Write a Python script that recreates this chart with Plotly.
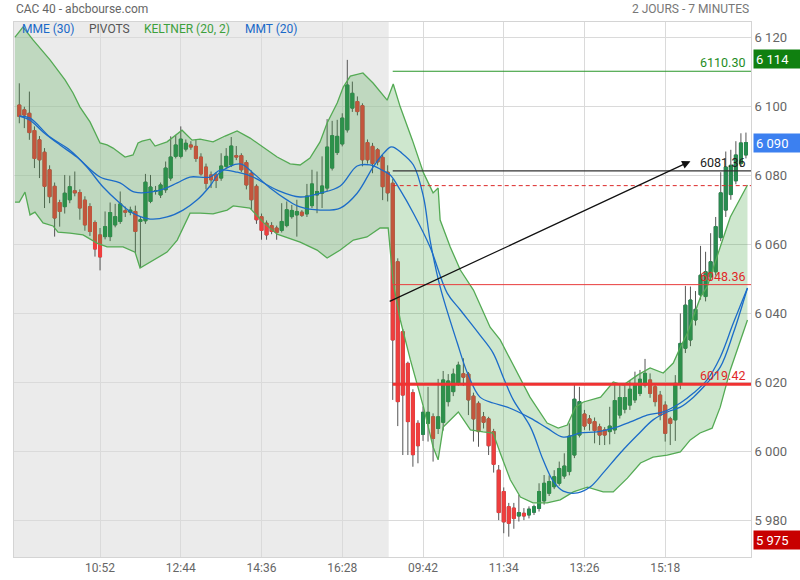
import plotly.graph_objects as go

# ---------------- data ----------------
opens = [6100.5, 6099.1, 6098.1, 6093.1, 6090.4, 6086.8, 6081.7, 6076.9, 6072.2, 6071.0,
         6073.0, 6075.6, 6075.1, 6072.9, 6071.0, 6066.4, 6062.8, 6062.3, 6062.3, 6065.7,
         6066.7, 6069.8, 6069.4, 6069.6, 6066.7, 6066.9, 6072.5, 6075.4, 6074.4, 6075.9,
         6079.3, 6085.6, 6085.6, 6087.7, 6088.9, 6088.5, 6085.4, 6082.5, 6080.2, 6080.2,
         6079.3, 6082.7, 6083.1, 6085.8, 6085.8, 6083.8, 6080.7, 6076.9, 6068.1, 6066.2,
         6065.5, 6064.8, 6064.1, 6065.5, 6068.1, 6068.6, 6069.4, 6068.9, 6071.3, 6074.4,
         6074.9, 6076.4, 6082.2, 6086.7, 6089.2, 6093.3, 6099.6, 6101.5, 6100.3, 6089.6,
         6088.5, 6087.5, 6085.3, 6081.0,
         6077.8, 6055.0, 6034.7, 6025.5, 6017.0, 6008.1, 6004.9, 6008.1, 6010.0, 6006.6,
         6008.4, 6014.4, 6017.3, 6019.7, 6022.5, 6022.4, 6016.0, 6013.9, 6010.0, 6009.4,
         6005.7, 5994.5, 5988.3, 5983.9, 5983.5, 5981.2, 5982.0, 5981.5, 5982.3, 5983.4,
         5985.6, 5987.8, 5989.7, 5990.7, 5992.8, 5994.1, 5998.9, 6004.7, 6010.8, 6009.4,
         6008.6, 6007.1, 6006.2, 6005.7, 6006.2, 6010.5, 6012.2, 6013.4, 6014.9, 6016.8,
         6019.2, 6020.7, 6018.7, 6016.3, 6013.4, 6009.4, 6009.1, 6019.7, 6029.9, 6032.3,
         6038.1, 6045.4, 6044.9, 6050.6, 6052.1, 6062.0, 6070.0, 6074.5, 6078.5, 6083.5,
         6086.0]
highs = [6106.8, 6100.0, 6104.4, 6094.3, 6091.5, 6088.0, 6083.0, 6078.0, 6073.0, 6080.2,
         6080.0, 6081.2, 6076.0, 6074.0, 6072.0, 6067.0, 6064.8, 6069.6, 6072.2, 6071.8,
         6075.4, 6071.0, 6071.0, 6071.3, 6068.0, 6080.5, 6080.2, 6077.0, 6078.0, 6084.1,
         6091.4, 6091.8, 6094.3, 6090.5, 6090.0, 6090.4, 6086.5, 6083.5, 6081.2, 6081.0,
         6086.5, 6088.0, 6091.2, 6088.6, 6086.5, 6084.5, 6081.5, 6077.5, 6069.0, 6067.0,
         6066.5, 6065.5, 6072.0, 6072.5, 6071.5, 6073.0, 6070.0, 6077.6, 6081.7, 6081.2,
         6085.6, 6096.4, 6095.9, 6096.2, 6098.1, 6113.6, 6107.3, 6103.0, 6101.0, 6090.5,
         6089.5, 6088.0, 6086.0, 6083.0,
         6079.0, 6056.0, 6035.5, 6026.0, 6018.0, 6009.0, 6013.0, 6018.7, 6011.0, 6021.0,
         6023.3, 6022.4, 6024.0, 6026.0, 6027.0, 6023.0, 6017.0, 6014.5, 6011.4, 6010.0,
         6006.5, 5996.0, 5989.5, 5985.0, 5985.0, 5987.3, 5983.5, 5984.0, 5984.5, 5990.7,
         5993.1, 5993.0, 5994.5, 5997.0, 5999.4, 6008.1, 6019.7, 6018.7, 6012.0, 6010.5,
         6009.8, 6008.0, 6007.0, 6012.9, 6019.5, 6019.2, 6019.2, 6020.7, 6023.1, 6023.6,
         6026.8, 6022.6, 6019.5, 6017.5, 6014.5, 6010.0, 6022.1, 6040.0, 6048.0, 6047.8,
         6046.5, 6059.6, 6057.9, 6063.3, 6068.0, 6081.0, 6087.0, 6087.5, 6090.0, 6092.3,
         6092.5]
lows = [6095.2, 6093.8, 6090.4, 6082.2, 6079.3, 6070.6, 6072.0, 6062.3, 6065.2, 6069.0,
        6072.0, 6074.0, 6067.2, 6064.0, 6062.5, 6056.5, 6052.5, 6061.5, 6061.0, 6065.0,
        6066.0, 6068.0, 6068.5, 6057.5, 6053.2, 6066.0, 6072.0, 6074.5, 6073.5, 6075.0,
        6078.5, 6085.0, 6085.0, 6087.0, 6087.5, 6084.0, 6080.0, 6076.0, 6076.4, 6076.4,
        6078.5, 6082.0, 6082.5, 6084.5, 6081.0, 6076.0, 6070.1, 6066.0, 6061.4, 6061.4,
        6063.0, 6061.4, 6063.5, 6065.0, 6067.5, 6062.3, 6068.0, 6068.0, 6070.6, 6069.1,
        6070.6, 6075.5, 6081.5, 6086.0, 6088.5, 6092.5, 6098.5, 6097.5, 6082.7, 6083.5,
        6080.7, 6083.0, 6072.9, 6072.5,
        6014.9, 6007.3, 5998.9, 5998.9, 5995.5, 5996.5, 6003.0, 6002.8, 5997.0, 6005.0,
        6006.0, 6013.0, 6016.0, 6019.0, 6019.0, 6010.5, 6002.8, 6001.3, 6006.6, 5998.9,
        5993.8, 5980.0, 5976.2, 5975.2, 5977.5, 5979.6, 5980.0, 5980.5, 5981.5, 5982.5,
        5984.5, 5987.0, 5989.0, 5990.0, 5992.0, 5993.0, 5998.0, 6004.0, 6006.2, 6006.0,
        6002.3, 6001.8, 6001.8, 6002.0, 6005.0, 6009.5, 6011.0, 6012.0, 6014.0, 6016.0,
        6018.5, 6015.5, 6013.0, 6009.0, 6002.8, 6001.8, 6003.0, 6018.0, 6028.5, 6030.5,
        6036.5, 6044.0, 6043.5, 6049.5, 6051.0, 6061.0, 6068.0, 6073.0, 6077.5, 6082.5,
        6085.0]
closes = [6097.2, 6097.6, 6092.5, 6085.0, 6084.6, 6076.9, 6073.9, 6067.7, 6069.6, 6074.9,
          6076.8, 6075.0, 6070.6, 6065.7, 6063.8, 6058.7, 6056.4, 6065.2, 6069.3, 6068.1,
          6071.8, 6069.4, 6070.0, 6063.8, 6067.2, 6078.1, 6076.7, 6075.6, 6077.3, 6082.2,
          6085.4, 6088.9, 6090.6, 6089.4, 6088.3, 6085.0, 6080.5, 6077.8, 6078.8, 6078.6,
          6082.8, 6085.6, 6088.6, 6085.4, 6081.7, 6077.3, 6073.0, 6067.2, 6064.1, 6062.8,
          6063.8, 6063.5, 6066.7, 6070.1, 6069.9, 6069.6, 6068.5, 6074.1, 6077.6, 6075.4,
          6077.0, 6088.3, 6091.6, 6091.4, 6096.7, 6106.3, 6103.9, 6098.6, 6084.6, 6084.6,
          6083.5, 6084.0, 6076.8, 6075.0,
          6032.3, 6014.4, 6016.3, 6008.6, 5999.0, 6001.6, 6011.3, 6011.3, 6003.7, 6010.0,
          6020.7, 6020.4, 6022.4, 6025.0, 6021.5, 6014.9, 6009.4, 6005.7, 6008.4, 6001.6,
          5996.2, 5982.2, 5979.5, 5979.1, 5980.5, 5982.2, 5981.2, 5983.2, 5983.9, 5988.3,
          5990.7, 5991.2, 5992.6, 5995.0, 5995.7, 6004.4, 6015.1, 6014.4, 6007.3, 6008.1,
          6006.0, 6004.7, 6004.7, 6007.3, 6014.7, 6015.6, 6015.6, 6018.0, 6019.2, 6020.9,
          6022.6, 6016.8, 6014.4, 6010.5, 6005.2, 6008.1, 6019.7, 6031.3, 6042.4, 6043.9,
          6041.2, 6051.1, 6052.1, 6055.0, 6065.2, 6075.0, 6082.5, 6083.0, 6086.0, 6089.5,
          6089.6]
bar_index = list(range(len(opens)))

time_tick_index = [16, 32, 48, 64, 80, 96, 112, 128]
time_tick_labels = ["10:52", "12:44", "14:36", "16:28", "09:42", "11:34", "13:26", "15:18"]

price_ticks = [5980, 6000, 6020, 6040, 6060, 6080, 6100, 6120]
price_tick_labels = ["5 980", "6 000", "6 020", "6 040", "6 060", "6 080", "6 100", "6 120"]

kelt_up_index = [-0.85, 0.73, 2.72, 6.09, 9.06, 10.65, 12.03, 14.01, 16.0, 17.39, 18.58, 20.96,
                 22.54, 23.53, 24.33, 25.91, 26.9, 29.28, 32.25, 34.24, 35.83, 38.4, 40.78,
                 43.16, 45.74, 48.32, 51.1, 53.67, 55.65, 57.6, 59.6, 61.0, 63.0, 64.2, 65.6,
                 68.1, 70.1, 72.9, 74.1, 75.5, 77.9, 80.1, 82.0, 83.0, 83.4, 85.4, 87.4, 90.0,
                 93.3, 95.3, 97.9, 101.2, 104.6, 106.8, 108.6, 110.2, 111.8, 115.2, 117.7,
                 119.7, 122.5, 125.0, 127.6, 129.6, 131.0, 132.4, 135.0, 136.3, 138.9, 140.9,
                 144.3]
kelt_up_value = [6120.2, 6123.1, 6119.4, 6113.6, 6107.8, 6104.0, 6099.9, 6095.6, 6089.5, 6088.9,
                 6088.0, 6085.4, 6086.0, 6089.5, 6090.0, 6090.6, 6088.6, 6089.8, 6093.2, 6090.3,
                 6090.6, 6089.8, 6091.5, 6093.0, 6090.9, 6088.3, 6085.4, 6083.4, 6083.1, 6085.1,
                 6089.8, 6095.3, 6101.1, 6105.7, 6108.9, 6109.8, 6106.9, 6101.9, 6106.6, 6099.9,
                 6090.3, 6080.8, 6075.0, 6076.4, 6067.1, 6059.3, 6052.6, 6046.8, 6036.0, 6032.3,
                 6025.0, 6015.7, 6008.2, 6006.7, 6007.6, 6012.8, 6014.3, 6015.7, 6020.1, 6019.2,
                 6022.1, 6024.2, 6022.7, 6025.6, 6030.2, 6034.3, 6044.8, 6047.7, 6059.3, 6068.0,
                 6077.3]
kelt_lo_index = [-0.85, 0.0, 1.13, 2.12, 3.11, 4.7, 6.68, 7.67, 10.05, 12.63, 15.4, 17.4, 20.56,
                 22.94, 23.93, 25.9, 29.28, 31.3, 33.84, 35.83, 38.4, 41.2, 42.4, 45.7, 48.3,
                 51.1, 53.67, 55.65, 59.0, 61.0, 63.6, 66.2, 68.9, 71.5, 73.1, 74.1, 75.5, 77.5,
                 80.1, 82.0, 83.0, 84.0, 87.0, 89.4, 91.9, 93.9, 95.3, 97.3, 99.3, 101.8, 104.6,
                 107.2, 109.8, 112.6, 115.7, 117.7, 120.5, 123.1, 125.6, 128.4, 131.0, 132.97,
                 134.9, 137.3, 138.9, 140.9, 144.3]
kelt_lo_value = [6072.3, 6072.3, 6075.2, 6068.6, 6069.4, 6066.3, 6065.4, 6063.6, 6063.3, 6062.8,
                 6060.4, 6059.3, 6059.3, 6057.8, 6053.2, 6054.9, 6057.8, 6061.3, 6069.1, 6069.1,
                 6068.9, 6070.0, 6071.2, 6070.6, 6066.5, 6063.0, 6061.6, 6060.7, 6058.4, 6056.1,
                 6058.4, 6061.3, 6062.2, 6064.8, 6064.8, 6048.8, 6038.1, 6026.5, 6012.8, 6001.2,
                 5997.5, 6007.0, 6011.4, 6006.2, 6005.6, 6005.3, 5999.5, 5991.7, 5986.7, 5985.0,
                 5985.0, 5985.9, 5988.2, 5989.6, 5988.2, 5988.2, 5992.2, 5996.6, 5998.3, 5998.9,
                 5999.8, 6003.3, 6005.3, 6006.7, 6012.8, 6023.6, 6038.1]

mmt_index = [0.0, 2.12, 6.09, 10.05, 13.4, 16.6, 19.96, 22.5, 25.9, 29.3, 32.45, 35.2, 37.8,
             39.8, 43.8, 46.3, 49.7, 53.1, 55.65, 59.6, 63.6, 66.95, 70.1, 71.9, 73.5, 74.1,
             75.5, 78.1, 80.1, 81.4, 83.4, 86.8, 88.8, 91.3, 93.9, 96.7, 101.3, 104.6, 107.8,
             111.2, 114.5, 117.7, 121.1, 124.4, 127.6, 131.0, 133.6, 136.3, 138.9, 141.5, 144.3]
mmt_value = [6097.3, 6096.7, 6091.2, 6087.4, 6082.5, 6076.7, 6072.0, 6069.1, 6067.4, 6068.0,
             6070.0, 6072.9, 6077.0, 6081.0, 6083.4, 6080.8, 6076.4, 6072.9, 6070.9, 6070.0,
             6070.6, 6074.9, 6082.5, 6086.0, 6088.3, 6088.3, 6086.9, 6083.1, 6073.8, 6061.3,
             6047.7, 6031.4, 6022.7, 6015.7, 6014.0, 6012.8, 6009.6, 6006.7, 6004.1, 6005.3,
             6005.6, 6006.7, 6008.5, 6010.5, 6011.4, 6014.0, 6016.9, 6020.7, 6027.3, 6037.2,
             6047.4]
mme_index = [0.0, 2.12, 4.7, 8.07, 11.4, 16.0, 19.96, 22.9, 27.9, 31.3, 33.8, 37.8, 39.8, 43.2,
             46.3, 51.1, 55.65, 59.6, 63.6, 66.95, 69.5, 71.9, 73.5, 75.5, 78.1, 81.4, 84.8,
             87.4, 91.3, 93.9, 95.9, 97.9, 101.3, 103.8, 105.8, 107.8, 110.6, 113.1, 115.7,
             119.1, 122.5, 125.6, 128.4, 131.0, 133.6, 136.3, 138.9, 141.5, 144.3]
mme_value = [6097.3, 6096.1, 6092.7, 6088.9, 6085.4, 6079.6, 6077.9, 6075.2, 6075.8, 6077.9,
             6079.6, 6079.6, 6081.6, 6081.0, 6079.6, 6075.8, 6073.8, 6074.9, 6077.0, 6082.8,
             6083.1, 6081.6, 6080.2, 6075.8, 6069.1, 6059.3, 6045.9, 6041.0, 6033.7, 6028.5,
             6021.5, 6014.9, 6007.0, 5997.5, 5991.3, 5988.4, 5987.9, 5989.6, 5993.7, 5999.5,
             6004.7, 6009.1, 6011.4, 6012.8, 6015.7, 6019.8, 6024.4, 6034.3, 6047.4]

pivot_levels = [6110.30, 6081.36, 6048.36, 6019.42]
pivot_labels = ["6110.30", "6081.36", "6048.36", "6019.42"]
prev_close_level = 6077.1
pivot_start_index = 74

arrow_tail = [73.1, 6043.3]
arrow_head = [133.0, 6084.2]

tag_values = [6114, 6090, 5975]
tag_labels = ["6 114", "6 090", "5 975"]

day_split_index = 73.2

# ---------------- styles ----------------
FONT = "Roboto"
GREEN_C = "rgb(40,140,80)"
RED_C = "rgb(240,62,62)"
WICK_C = "#555555"
BAND_LINE = "rgb(84,170,84)"
BAND_FILL = "rgba(60,160,60,0.25)"
BLUE = "rgb(28,108,200)"
X_RANGE = [-1.05, 145.0]
Y_RANGE = [5969.3, 6124.6]

fig = go.Figure()

# wicks (grey)
fig.add_trace(go.Candlestick(
    x=bar_index, open=opens, high=highs, low=lows, close=closes,
    increasing=dict(line=dict(color=WICK_C, width=1), fillcolor=WICK_C),
    decreasing=dict(line=dict(color=WICK_C, width=1), fillcolor=WICK_C),
    whiskerwidth=0, hoverinfo="skip", showlegend=False))

# bodies (coloured)
body_hi = [max(o, c) for o, c in zip(opens, closes)]
body_lo = [min(o, c) for o, c in zip(opens, closes)]
fig.add_trace(go.Candlestick(
    x=bar_index, open=opens, high=body_hi, low=body_lo, close=closes,
    increasing=dict(line=dict(color=GREEN_C, width=1), fillcolor=GREEN_C),
    decreasing=dict(line=dict(color=RED_C, width=1), fillcolor=RED_C),
    whiskerwidth=0, hoverinfo="skip", showlegend=False))

# Keltner band (drawn over the candles)
fig.add_trace(go.Scatter(x=kelt_lo_index, y=kelt_lo_value, mode="lines",
                         line=dict(color=BAND_LINE, width=1.3), hoverinfo="skip", showlegend=False))
fig.add_trace(go.Scatter(x=kelt_up_index, y=kelt_up_value, mode="lines", fill="tonexty",
                         fillcolor=BAND_FILL, line=dict(color=BAND_LINE, width=1.3),
                         hoverinfo="skip", showlegend=False))

# moving averages
fig.add_trace(go.Scatter(x=mme_index, y=mme_value, mode="lines", line=dict(color=BLUE, width=1.3, shape="spline"),
                         hoverinfo="skip", showlegend=False))
fig.add_trace(go.Scatter(x=mmt_index, y=mmt_value, mode="lines", line=dict(color=BLUE, width=1.3, shape="spline"),
                         hoverinfo="skip", showlegend=False))

# pivot lines
pivot_colors = ["rgb(40,150,40)", "#333333", "rgb(232,60,60)", "rgb(240,50,50)"]
pivot_widths = [1, 1.2, 1, 3]
x_end = X_RANGE[1] + 1
for lvl, col, w in zip(pivot_levels, pivot_colors, pivot_widths):
    fig.add_trace(go.Scatter(x=[pivot_start_index, x_end], y=[lvl, lvl], mode="lines",
                             line=dict(color=col, width=w), hoverinfo="skip", showlegend=False))
fig.add_trace(go.Scatter(x=[pivot_start_index, x_end], y=[prev_close_level, prev_close_level], mode="lines",
                         line=dict(color="rgb(220,40,40)", width=1, dash="4px,3px"),
                         hoverinfo="skip", showlegend=False))

annotations = []
label_colors = ["rgb(30,140,30)", "#222222", "rgb(225,40,40)", "rgb(225,40,40)"]
for lvl, txt, col in zip(pivot_levels, pivot_labels, label_colors):
    annotations.append(dict(xref="paper", x=1, xanchor="right", xshift=-4, yref="y", y=lvl,
                            yanchor="bottom", yshift=-1, text=txt, showarrow=False,
                            font=dict(family=FONT, size=12.5, color=col)))

# arrow
annotations.append(dict(x=arrow_head[0], y=arrow_head[1], xref="x", yref="y",
                        ax=arrow_tail[0], ay=arrow_tail[1], axref="x", ayref="y",
                        showarrow=True, arrowhead=2, arrowsize=1.4, arrowwidth=1.2,
                        arrowcolor="#111111", text=""))

# price tags on the right axis
tag_bg = ["rgb(16,128,16)", "rgb(60,128,240)", "rgb(200,0,0)"]
tag_shift = [0, -2, -3]
for v, t, bg, sh in zip(tag_values, tag_labels, tag_bg, tag_shift):
    annotations.append(dict(xref="paper", x=1, xanchor="left", xshift=2, yref="y", y=v,
                            yanchor="middle", yshift=sh, text=t, showarrow=False, align="left",
                            width=42, height=14, bgcolor=bg, borderpad=2,
                            font=dict(family=FONT, size=13, color="white")))

# header texts
annotations.append(dict(xref="paper", yref="paper", x=0, y=1.0243, xanchor="left", yanchor="middle",
                        text="CAC 40 - abcbourse.com", showarrow=False,
                        font=dict(family=FONT, size=12, color="#666666")))
annotations.append(dict(xref="paper", yref="paper", x=1, y=1.0243, xanchor="right", yanchor="middle",
                        text="2 JOURS - 7 MINUTES", showarrow=False,
                        font=dict(family=FONT, size=12, color="#777777")))
legend_items = [("MME (30)", "rgb(25,105,200)", 0.008), ("PIVOTS", "#555555", 0.099),
                ("KELTNER (20, 2)", "rgb(60,160,60)", 0.1737), ("MMT (20)", "rgb(25,105,200)", 0.3107)]
for txt, col, xp in legend_items:
    annotations.append(dict(xref="paper", yref="paper", x=xp, y=0.9869, xanchor="left", yanchor="middle",
                            text=txt, showarrow=False, font=dict(family=FONT, size=12, color=col)))

fig.update_layout(
    width=800, height=580,
    margin=dict(l=14, r=49, t=22, b=23, autoexpand=False),
    paper_bgcolor="white", plot_bgcolor="white",
    showlegend=False, boxgap=0.15, boxmode="overlay",
    font=dict(family=FONT, size=12, color="#666666"),
    annotations=annotations,
    shapes=[dict(type="rect", xref="x", yref="paper", x0=X_RANGE[0], x1=day_split_index, y0=0, y1=1,
                 fillcolor="#ebebeb", line=dict(width=0), layer="below")],
    xaxis=dict(range=X_RANGE, tickmode="array", tickvals=time_tick_index, ticktext=time_tick_labels,
               showgrid=True, gridcolor="#dadada", gridwidth=1, zeroline=False,
               showline=True, linecolor="#d4d4d4", mirror=True, ticks="", automargin=False,
               tickfont=dict(family=FONT, size=12, color="#666666"),
               rangeslider=dict(visible=False), fixedrange=True),
    yaxis=dict(range=Y_RANGE, side="right", tickmode="array", tickvals=price_ticks, ticktext=price_tick_labels,
               showgrid=True, gridcolor="#dadada", gridwidth=1, zeroline=False,
               showline=True, linecolor="#d4d4d4", mirror=True, ticks="", automargin=False,
               tickfont=dict(family=FONT, size=13, color="#666666"), fixedrange=True),
)

# remove the default 8px page margin so the figure sits at the window origin
fig.write_html("out.html", config={"displayModeBar": False, "staticPlot": True},
               post_script="document.body.style.margin='0px';document.body.style.overflow='hidden';")
